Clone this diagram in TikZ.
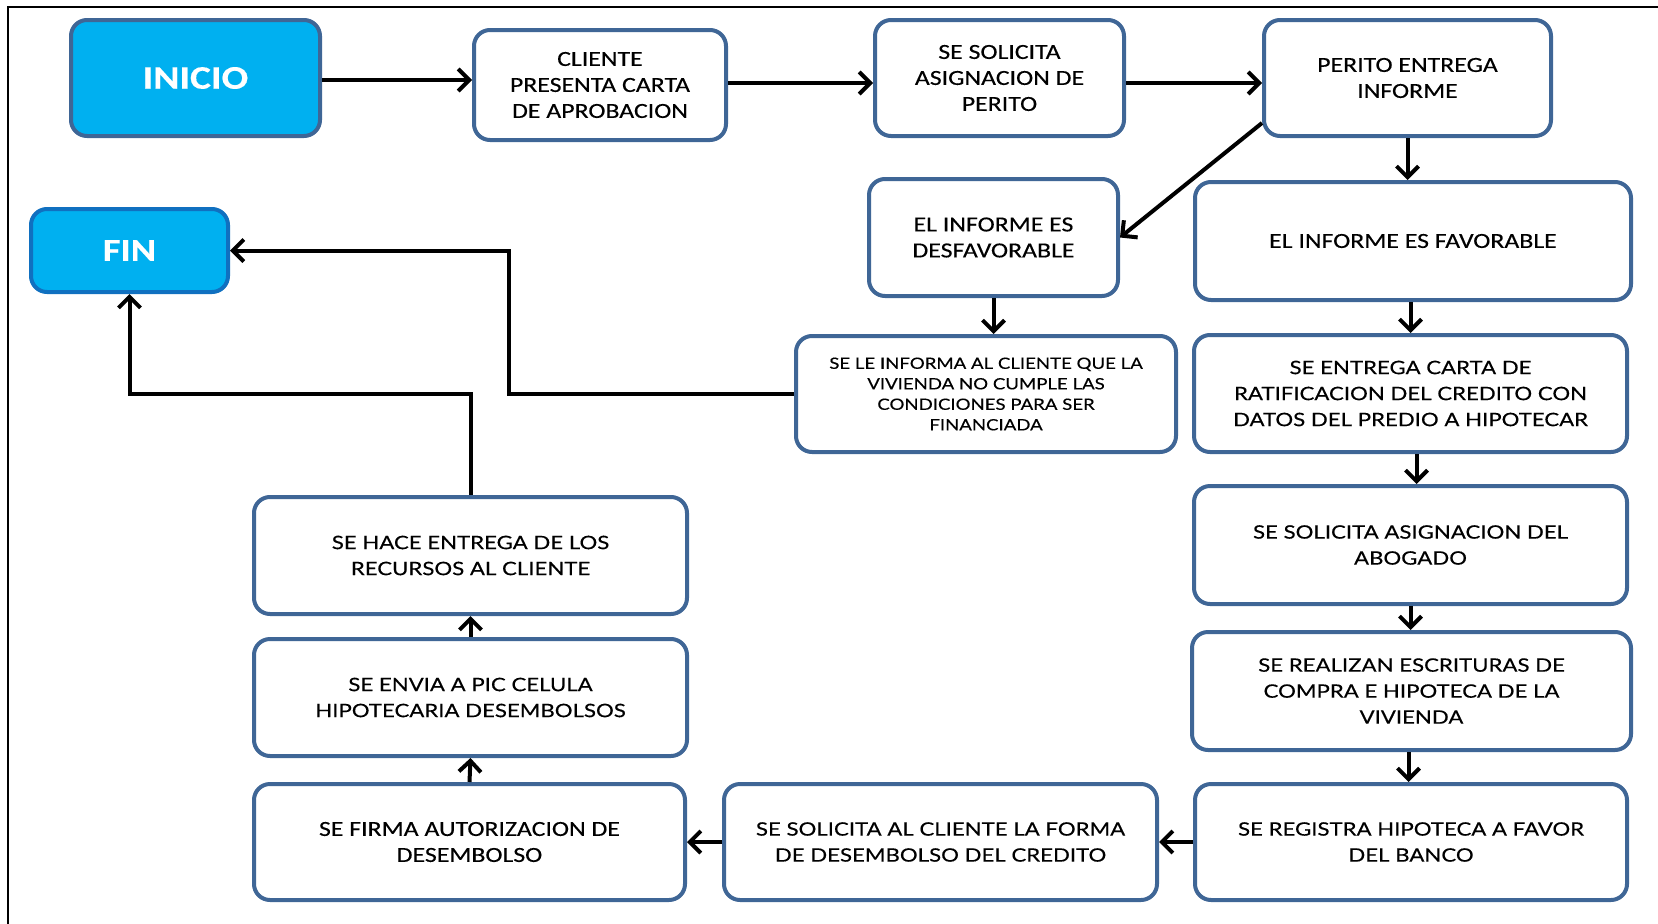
\documentclass[tikz,border=0pt]{standalone}
\usepackage{fontspec}
\setmainfont[FakeStretch=1.2,FakeBold=0.3]{Carlito}
\newfontfamily\gill[FakeStretch=1.2,FakeBold=0.35]{Lato}
\usetikzlibrary{arrows.meta}
\definecolor{borde}{HTML}{3F6696}
\definecolor{celeste}{HTML}{00B0F0}
\definecolor{bordefin}{HTML}{1070C0}
\tikzset{
  paso/.style={draw=borde, line width=4pt, rounded corners=16pt, fill=white, align=center, inner sep=0pt, font=\fontsize{21.5}{26}\selectfont},
  pasog/.style={paso, font=\gill\fontsize{18.5}{26}\selectfont},
  extremo/.style={paso, fill=celeste, text=white, font=\fontsize{33}{36}\selectfont\bfseries},
  flecha/.style={-{Straight Barb[length=11pt,width=22pt]}, line width=4pt},
}
\begin{document}
\begin{tikzpicture}[x=1pt,y=-1pt]
    \useasboundingbox (0,0) rectangle (1658,924);
    \draw[line width=2pt] (8,924)--(8,7)--(1658,7);

    % fila superior
    \node[extremo, minimum width=249, minimum height=116] (inicio) at (195.5,78) {INICIO};
    \node[paso, minimum width=252, minimum height=110] (cliente) at (600,85) {CLIENTE\\PRESENTA CARTA\\DE APROBACION};
    \node[paso, minimum width=249, minimum height=116] (perito1) at (999.5,78) {SE SOLICITA\\ASIGNACION DE\\PERITO};
    \node[paso, minimum width=287, minimum height=116] (perito2) at (1407.5,78) {PERITO ENTREGA\\INFORME};

    % informe
    \node[paso, minimum width=249, minimum height=117] (desfav) at (993.5,237.5) {EL INFORME ES\\DESFAVORABLE};
    \node[paso, minimum width=436, minimum height=118] (fav) at (1413,241) {EL INFORME ES FAVORABLE};
    \node[paso, font=\gill\fontsize{15.5}{20.5}\selectfont, minimum width=380, minimum height=116] (informa) at (986,394) {SE LE INFORMA AL CLIENTE QUE LA\\VIVIENDA NO CUMPLE LAS\\CONDICIONES PARA SER\\FINANCIADA};
    \node[extremo, draw=bordefin, font=\fontsize{32}{36}\selectfont\bfseries, minimum width=197, minimum height=83] (fin) at (129.5,250.5) {FIN};

    % columna derecha
    \node[pasog, minimum width=433, minimum height=117] (ratif) at (1410.5,393.5) {SE ENTREGA CARTA DE\\RATIFICACION DEL CREDITO CON\\DATOS DEL PREDIO A HIPOTECAR};
    \node[pasog, minimum width=433, minimum height=118] (abogado) at (1410.5,545) {SE SOLICITA ASIGNACION DEL\\ABOGADO};
    \node[pasog, minimum width=439, minimum height=118] (escrit) at (1411.5,691) {SE REALIZAN ESCRITURAS DE\\COMPRA E HIPOTECA DE LA\\VIVIENDA};
    \node[pasog, minimum width=432, minimum height=116] (registra) at (1411,842) {SE REGISTRA HIPOTECA A FAVOR\\DEL BANCO};

    % fila inferior y columna izquierda
    \node[pasog, minimum width=433, minimum height=116] (forma) at (940.5,842) {SE SOLICITA AL CLIENTE LA FORMA\\DE DESEMBOLSO DEL CREDITO};
    \node[paso, minimum width=431, minimum height=116] (firma) at (469.5,842) {SE FIRMA AUTORIZACION DE\\DESEMBOLSO};
    \node[pasog, minimum width=433, minimum height=117] (envia) at (470.5,697.5) {SE ENVIA A PIC CELULA\\HIPOTECARIA DESEMBOLSOS};
    \node[pasog, minimum width=433, minimum height=117] (entrega) at (470.5,555.5) {SE HACE ENTREGA DE LOS\\RECURSOS AL CLIENTE};

    % flechas
    \draw[flecha] ([yshift=-2pt]inicio.east) -- ([yshift=-2pt]inicio.east -| cliente.west);
    \draw[flecha] ([yshift=2pt]cliente.east) -- ([yshift=2pt]cliente.east -| perito1.west);
    \draw[flecha] ([yshift=-5pt]perito1.east) -- ([yshift=-5pt]perito1.east -| perito2.west);
    \draw[flecha] ([yshift=-45pt]perito2.west) -- (desfav.east);
    \draw[flecha] (perito2.south) -- (perito2.south |- fav.north);
    \draw[flecha] (desfav.south) -- (desfav.south |- informa.north);
    \draw[flecha] (ratif.north |- fav.south) -- (ratif.north);
    \draw[flecha] ([xshift=6pt]ratif.south) -- ([xshift=6pt]ratif.south |- abogado.north);
    \draw[flecha] (abogado.south) -- (abogado.south |- escrit.north);
    \draw[flecha] ([xshift=-3pt]escrit.south) -- ([xshift=-3pt]escrit.south |- registra.north);
    \draw[flecha] (registra.west) -- (forma.east);
    \draw[flecha] (forma.west) -- (firma.east);
    \draw[flecha] (firma.north) -- (envia.south);
    \draw[flecha] (envia.north) -- (entrega.south);
    \draw[flecha] (entrega.north) |- ([xshift=-341pt]informa.west) -| (fin.south);
    \draw[flecha] (informa.west) -- ([xshift=-285pt]informa.west) |- (fin.east);
\end{tikzpicture}
\end{document}
